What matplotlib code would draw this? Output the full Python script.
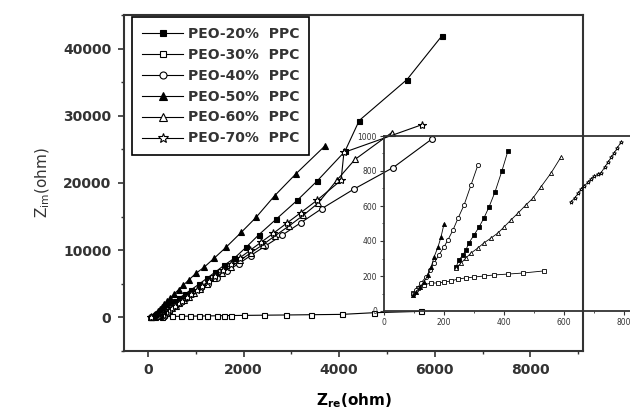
import numpy as np
import matplotlib
matplotlib.use('Agg')
from matplotlib import pyplot as plt
from matplotlib.ticker import MultipleLocator

LABELS = ['PEO-20%  PPC', 'PEO-30%  PPC', 'PEO-40%  PPC',
          'PEO-50%  PPC', 'PEO-60%  PPC', 'PEO-70%  PPC']

# Full impedance spectra, Z' and Z'' in ohm.
zre_20 = [60, 110, 160, 210, 260, 320, 390, 470, 560, 660, 780, 910, 1060,
          1230, 1400, 1590, 1800, 2050, 2320, 2680, 3120, 3540, 4120, 4420,
          5420, 6150]
zim_20 = [0, 200, 420, 650, 900, 1200, 1550, 1950, 2400, 2900, 3500, 4150,
          4900, 5800, 6700, 7730, 8770, 10410, 12300, 14600, 17400, 20300,
          24700, 29300, 35400, 41900]

zre_30 = [60, 150, 300, 500, 700, 880, 1070, 1240, 1450, 1590, 1740, 2010,
          2430, 2890, 3410, 4060, 4730, 5720]
zim_30 = [0, 50, 100, 140, 170, 190, 200, 220, 240, 260, 280, 300, 330, 360,
          400, 450, 700, 900]

zre_40 = [60, 170, 200, 240, 290, 350, 420, 500, 590, 690, 800, 930, 1080,
          1250, 1450, 1650, 1900, 2150, 2450, 2800, 3200, 3640, 4310, 5130,
          5950]
zim_40 = [0, 150, 250, 400, 600, 850, 1150, 1500, 1900, 2350, 2900, 3500,
          4200, 5000, 5900, 6900, 8000, 9200, 10600, 12200, 14100, 16200,
          19100, 22300, 26600]

zre_50 = [60, 100, 120, 150, 180, 210, 250, 290, 340, 400, 470, 550, 640,
          740, 860, 1000, 1170, 1380, 1630, 1950, 2260, 2650, 3100, 3700]
zim_50 = [0, 150, 300, 500, 700, 950, 1250, 1600, 2000, 2400, 2900, 3500,
          4100, 4800, 5600, 6540, 7430, 8770, 10410, 12640, 14870, 18100,
          21400, 25500]

zre_60 = [60, 260, 290, 320, 360, 400, 450, 510, 580, 660, 750, 850, 960,
          1090, 1230, 1380, 1550, 1730, 1930, 2150, 2400, 2650, 2950, 3250,
          3560, 3950, 4330, 5100]
zim_60 = [0, 180, 300, 450, 650, 850, 1100, 1400, 1750, 2150, 2600, 3100,
          3700, 4300, 5000, 5800, 6600, 7500, 8500, 9600, 10800, 12100,
          13600, 15200, 17000, 20400, 23500, 27500]

zre_70 = [60, 340, 360, 390, 420, 460, 510, 570, 640, 720, 810, 910, 1020,
          1140, 1270, 1410, 1570, 1740, 1930, 2140, 2370, 2620, 2900, 3200,
          3530, 4040, 4100, 5740]
zim_70 = [0, 250, 400, 600, 800, 1050, 1350, 1700, 2100, 2500, 3000, 3500,
          4100, 4700, 5400, 6200, 7000, 7900, 8900, 10000, 11200, 12500,
          14000, 15600, 17400, 20400, 24550, 28700]

# Low-frequency region shown in the inset.
ins_re_20 = [240, 250, 263, 273, 283, 300, 317, 333, 350, 370, 393, 413]
ins_im_20 = [251, 291, 320, 349, 389, 434, 480, 531, 594, 680, 800, 914]

ins_re_30 = [97, 113, 133, 157, 180, 200, 223, 247, 273, 300, 333, 367, 413,
             463, 533]
ins_im_30 = [103, 131, 149, 160, 160, 166, 171, 183, 189, 194, 200, 206, 211,
             217, 229]

ins_re_40 = [97, 107, 123, 140, 153, 167, 183, 200, 213, 230, 247, 267, 290,
             313]
ins_im_40 = [97, 120, 160, 194, 234, 274, 320, 366, 406, 463, 531, 606, 720,
             834]

ins_re_50 = [97, 107, 120, 133, 147, 157, 167, 180, 190, 200]
ins_im_50 = [91, 109, 137, 166, 206, 251, 309, 366, 423, 497]

ins_re_60 = [240, 257, 273, 290, 313, 333, 357, 380, 400, 423, 447, 473, 497,
             523, 557, 590]
ins_im_60 = [246, 274, 303, 331, 360, 389, 417, 446, 480, 520, 560, 606, 646,
             709, 789, 880]

ins_re_70 = [623, 635, 647, 657, 668, 680, 690, 700, 712, 723, 735, 747, 757,
             767, 778, 790]
ins_im_70 = [623, 645, 672, 697, 716, 735, 754, 770, 780, 789, 820, 851, 878,
             903, 932, 966]

MARKERS = ['s', 's', 'o', '^', '^', '*']
FACES = ['black', 'white', 'white', 'black', 'white', 'white']
SIZES = [3.6, 3.6, 4.2, 5, 5, 6]

full_data = [(zre_20, zim_20), (zre_30, zim_30), (zre_40, zim_40),
             (zre_50, zim_50), (zre_60, zim_60), (zre_70, zim_70)]
inset_data = [(ins_re_20, ins_im_20), (ins_re_30, ins_im_30),
              (ins_re_40, ins_im_40), (ins_re_50, ins_im_50),
              (ins_re_60, ins_im_60), (ins_re_70, ins_im_70)]

fig = plt.figure(figsize=(6.3, 4.18), dpi=100)
ax = fig.add_axes([124/630, 1 - 351/418, 459/630, 336/418])

for (x, y), lab, mk, fc, ms in zip(full_data, LABELS, MARKERS, FACES, SIZES):
    ax.plot(x, y, color='black', lw=0.8, marker=mk, mfc=fc, mec='black',
            mew=0.8, ms=ms, label=lab)

ax.set_xlim(-500, 9100)
ax.set_ylim(-5000, 45000)
ax.xaxis.set_major_locator(MultipleLocator(2000))
ax.xaxis.set_minor_locator(MultipleLocator(1000))
ax.yaxis.set_major_locator(MultipleLocator(10000))
ax.yaxis.set_minor_locator(MultipleLocator(5000))
ax.tick_params(which='major', direction='out', length=4, width=1.2,
               labelsize=10, colors='#333333', pad=5)
ax.tick_params(which='minor', direction='out', length=2.5, width=1.0,
               colors='#333333')
ax.tick_params(top=False, right=False)
for lbl in ax.get_xticklabels() + ax.get_yticklabels():
    lbl.set_fontweight('bold')
for sp in ax.spines.values():
    sp.set_linewidth(1.5)
    sp.set_color('#333333')

ax.set_xlabel(r'$\mathbf{Z_{re}}$(ohm)', fontsize=11, fontweight='bold',
              labelpad=10)
ax.set_ylabel(r'Z$_{\mathrm{im}}$(ohm)', fontsize=11, labelpad=8,
              color='#333333')

leg = ax.legend(loc='upper left', bbox_to_anchor=(132/630, 1 - 17/418),
                bbox_transform=fig.transFigure, borderaxespad=0,
                prop={'size': 10, 'weight': 'bold'}, fancybox=False,
                edgecolor='black', framealpha=1, handlelength=3.0,
                handletextpad=0.3, labelspacing=0.5, borderpad=0.7,
                markerscale=1.2)
leg.get_frame().set_linewidth(1.2)
for txt in leg.get_texts():
    txt.set_color('#333333')

# Inset: low-frequency part of the spectra.
ins = fig.add_axes([384/630, 1 - 311/418, 255/630, 175/418])
ins.set_facecolor('none')
for (x, y), mk, fc in zip(inset_data, MARKERS, FACES):
    ins.plot(x, y, color='black', lw=0.6, marker=mk, mfc=fc,
             mec='black', mew=0.6, ms=3.0)

ins.set_xlim(0, 850)
ins.set_ylim(0, 1000)
ins.xaxis.set_major_locator(MultipleLocator(200))
ins.xaxis.set_minor_locator(MultipleLocator(100))
ins.yaxis.set_major_locator(MultipleLocator(200))
ins.yaxis.set_minor_locator(MultipleLocator(100))
ins.tick_params(which='major', direction='out', length=3, width=0.8,
                labelsize=5.5, pad=2, colors='#333333')
ins.tick_params(which='minor', direction='out', length=1.5, width=0.6,
                colors='#333333')
for sp in ins.spines.values():
    sp.set_linewidth(1.3)
    sp.set_color('#333333')

plt.savefig('out.png', dpi=100)
